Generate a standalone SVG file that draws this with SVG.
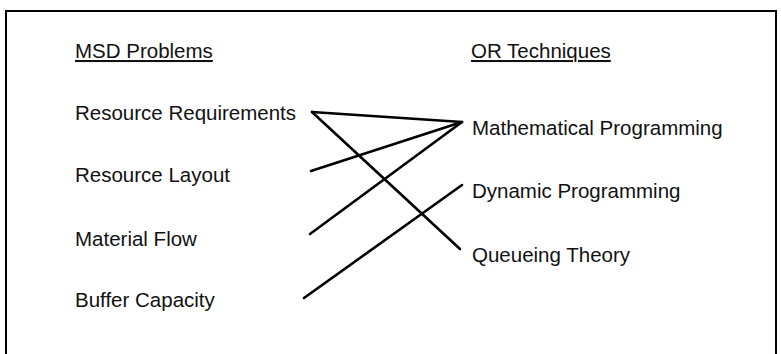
<svg xmlns="http://www.w3.org/2000/svg" width="781" height="354" viewBox="0 0 781 354">
<style>
text{font-family:"Liberation Sans",Arial,sans-serif;font-size:20.5px;fill:#111}
.hdr{text-decoration:underline}
.c{stroke:#000;stroke-width:2.6;fill:none;stroke-linecap:round}
.frame{stroke:#000;stroke-width:2;fill:none}
</style>
<rect width="781" height="354" fill="#fff"/>
<path class="frame" d="M6,360 V11 H776 V360"/>
<g id="hdr-msd"><text class="hdr" x="75" y="58">MSD Problems</text></g>
<g id="hdr-or"><text class="hdr" x="471" y="58">OR Techniques</text></g>
<g id="p-rr"><text x="75" y="120">Resource Requirements</text></g>
<g id="p-rl"><text x="75" y="182">Resource Layout</text></g>
<g id="p-mf"><text x="75" y="246">Material Flow</text></g>
<g id="p-bc"><text x="75" y="307">Buffer Capacity</text></g>
<g id="t-mp"><text x="472" y="135">Mathematical Programming</text></g>
<g id="t-dp"><text x="472" y="198">Dynamic Programming</text></g>
<g id="t-qt"><text x="472" y="262">Queueing Theory</text></g>
<g id="connectors">
<line class="c" x1="312" y1="112" x2="462" y2="122"/>
<line class="c" x1="312" y1="112" x2="460" y2="249"/>
<line class="c" x1="311" y1="171" x2="462" y2="122"/>
<line class="c" x1="310" y1="234" x2="462" y2="122"/>
<line class="c" x1="304" y1="298" x2="462" y2="185"/>
</g>
</svg>
